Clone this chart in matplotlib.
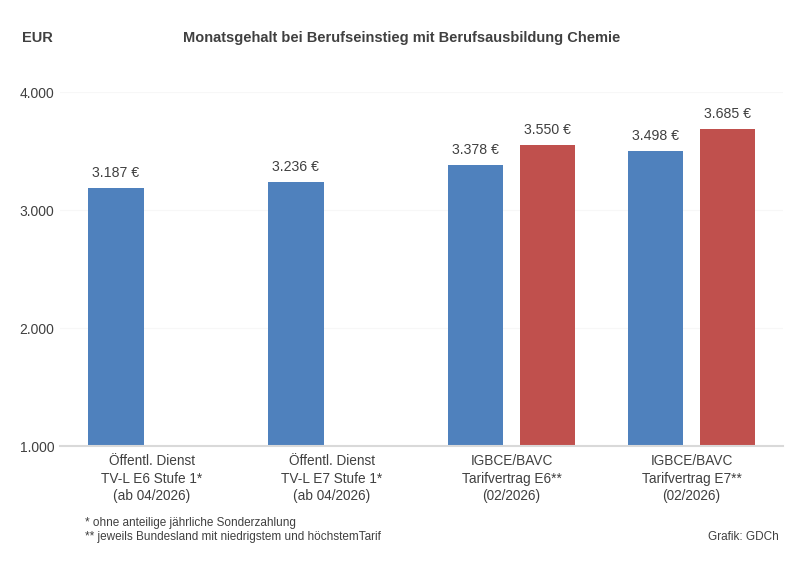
import numpy as np
import matplotlib
matplotlib.use("Agg")
from matplotlib import pyplot as plt
from matplotlib.ticker import FuncFormatter

plt.rcParams['font.family'] = ['Liberation Sans', 'DejaVu Sans']

categories = ["Öffentl. Dienst\nTV-L E6 Stufe 1*\n(ab 04/2026)",
              "Öffentl. Dienst\nTV-L E7 Stufe 1*\n(ab 04/2026)",
              "IGBCE/BAVC\nTarifvertrag E6**\n(02/2026)",
              "IGBCE/BAVC\nTarifvertrag E7**\n(02/2026)"]
low_values = [3187, 3236, 3378, 3498]
high_values = [np.nan, np.nan, 3550, 3685]
yticks = [1000, 2000, 3000, 4000]

blue = "#4f81bd"
red = "#c0504d"
txt = "#404040"

fig = plt.figure(figsize=(8, 5.73), dpi=100)
ax = fig.add_axes([0.075, 0.2216, 0.904, 0.6178])

x = np.arange(len(categories))
w = 0.31
off = 0.2
ax.bar(x - off, np.array(low_values) - 1000, w, bottom=1000, color=blue)
ax.bar(x + off, np.array(high_values) - 1000, w, bottom=1000, color=red)

def fmt(v):
    return "{:,.0f}".format(v).replace(",", ".")

for xs, vals in [(x - off, low_values), (x + off, high_values)]:
    for xi, v in zip(xs, vals):
        if np.isnan(v):
            continue
        ax.annotate(fmt(v) + " €", (xi, v), xytext=(0, 6), textcoords="offset points",
                    ha="center", va="bottom", fontsize=10.2, color=txt)

ax.set_xlim(-0.51, 3.51)
ax.set_ylim(1000, 4000)
ax.set_yticks(yticks)
ax.yaxis.set_major_formatter(FuncFormatter(lambda v, p: fmt(v)))
ax.set_xticks(x)
ax.set_xticklabels(categories, fontsize=9.8, color=txt, linespacing=1.3)
ax.tick_params(axis="y", labelsize=10, colors=txt, length=0, pad=4)
ax.tick_params(axis="x", length=0, pad=6)
ax.grid(axis="y", color="#f7f7f7", linewidth=0.8)
ax.set_axisbelow(True)
for s in ["top", "right", "left"]:
    ax.spines[s].set_visible(False)
ax.spines["bottom"].set_color("#d9d9d9")
ax.spines["bottom"].set_linewidth(1.5)

fig.text(0.028, 0.933, "EUR", fontsize=10.5, fontweight="bold", color=txt, va="center")
fig.text(0.502, 0.933, "Monatsgehalt bei Berufseinstieg mit Berufsausbildung Chemie",
         fontsize=10.5, fontweight="bold", color=txt, va="center", ha="center")
fig.text(0.106, 0.087, "* ohne anteilige jährliche Sonderzahlung", fontsize=8.5, color=txt, va="center")
fig.text(0.106, 0.062, "** jeweils Bundesland mit niedrigstem und höchstemTarif", fontsize=8.5, color=txt, va="center")
fig.text(0.973, 0.062, "Grafik: GDCh", fontsize=8.5, color=txt, va="center", ha="right")

fig.savefig("out.png", dpi=100, facecolor="white")
